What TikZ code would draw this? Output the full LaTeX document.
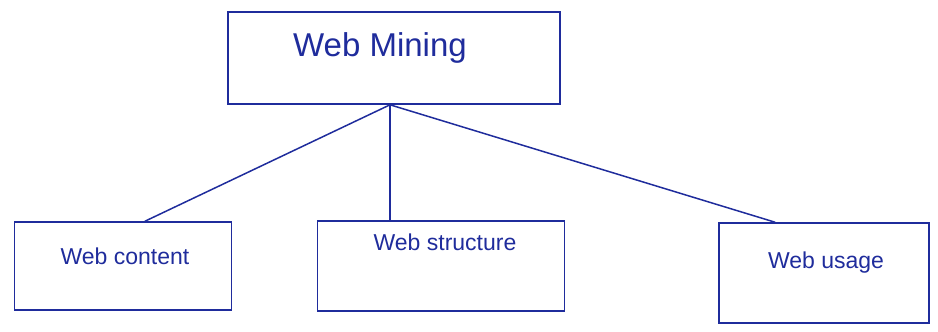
\documentclass[tikz,border=0pt]{standalone}
\usepackage{fontspec}
\setmainfont{Liberation Sans}
\definecolor{ink}{HTML}{1F2C9C}
\begin{document}
\begin{tikzpicture}[x=1pt,y=-1pt,
  box/.style={draw=ink,line width=1.6pt,inner sep=0pt,anchor=center},
  lbl/.style={text=ink,inner sep=0pt,anchor=center,font=\fontsize{23}{26}\selectfont},
  conn/.style={draw=ink,line width=1.5pt,line cap=round}]
\useasboundingbox (0,0) rectangle (938,332);
\node[box,minimum width=332pt,minimum height=92pt] (top) at (394,58) {};
\node[box,minimum width=217pt,minimum height=88pt] (left) at (123,266) {};
\node[box,minimum width=247pt,minimum height=90pt] (mid) at (441,266) {};
\node[box,minimum width=210pt,minimum height=100pt] (right) at (824,273) {};
\node[lbl,font=\fontsize{33}{38}\selectfont] (ttop) at (380,48) {Web Mining};
\node[lbl] (tleft) at (125,256) {Web content};
\node[lbl] (tmid) at (445,242) {Web structure};
\node[lbl] (tright) at (826,263) {Web usage};
\draw[conn] ([xshift=-4pt]top.south) -- ([xshift=22pt]left.north);
\draw[conn] ([xshift=-4pt]top.south) -- ([xshift=-51pt]mid.north);
\draw[conn] ([xshift=-4pt]top.south) -- ([xshift=-49pt]right.north);
\end{tikzpicture}
\end{document}
